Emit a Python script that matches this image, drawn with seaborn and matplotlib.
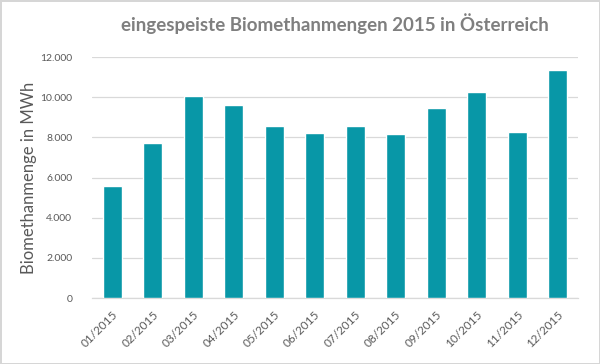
import matplotlib
matplotlib.use("Agg")
import matplotlib.pyplot as plt
from matplotlib.ticker import FuncFormatter, FixedLocator
import seaborn as sns

months = ["01/2015", "02/2015", "03/2015", "04/2015", "05/2015", "06/2015",
          "07/2015", "08/2015", "09/2015", "10/2015", "11/2015", "12/2015"]
mwh = [5580, 7700, 10060, 9620, 8550, 8200, 8550, 8170, 9480, 10240, 8250, 11340]
y_ticks = [0, 2000, 4000, 6000, 8000, 10000, 12000]

bar_color = "#0897A7"
text_gray = "#595959"
grid_gray = "#d9d9d9"

sns.set_style("white")
plt.rcParams["font.family"] = ["Lato", "DejaVu Sans"]

fig = plt.figure(figsize=(6, 3.64), dpi=100, linewidth=2, edgecolor="#d6d6d6")
ax = fig.add_axes([0.153, 0.181, 0.81, 0.662])

sns.barplot(x=months, y=mwh, color=bar_color, saturation=1, width=0.47, ax=ax, zorder=3)

ax.set_ylim(0, 12000)
ax.yaxis.set_major_locator(FixedLocator(y_ticks))
ax.yaxis.set_major_formatter(FuncFormatter(lambda v, _: f"{v:,.0f}".replace(",", ".")))
ax.grid(axis="y", color=grid_gray, linewidth=0.9, zorder=0)
ax.set_axisbelow(True)

for side in ["top", "right", "left"]:
    ax.spines[side].set_visible(False)
ax.spines["bottom"].set_color(grid_gray)
ax.spines["bottom"].set_linewidth(0.9)

ax.tick_params(axis="y", length=0, labelsize=7.5, labelcolor=text_gray, pad=14)
ax.tick_params(axis="x", length=0, labelsize=8.5, labelcolor=text_gray, pad=8)
ax.set_xticks(range(len(months)))
ax.set_xticklabels(months, rotation=45, ha="right", rotation_mode="anchor")

# small ticks between categories on the x axis
ax.set_xticks([i - 0.5 for i in range(len(months) + 1)], minor=True)
ax.tick_params(axis="x", which="minor", length=4, color=grid_gray, width=0.9, direction="out")
ax.set_xlim(-0.5, len(months) - 0.5)

ax.set_xlabel("")
ax.set_ylabel("Biomethanmenge in MWh", fontsize=12, color=text_gray, labelpad=2)

fig.text(0.558, 0.935, "eingespeiste Biomethanmengen 2015 in Österreich",
         ha="center", va="center", fontsize=13.5, fontweight="bold", color="#7f7f7f")

fig.savefig("out.png", dpi=100)
